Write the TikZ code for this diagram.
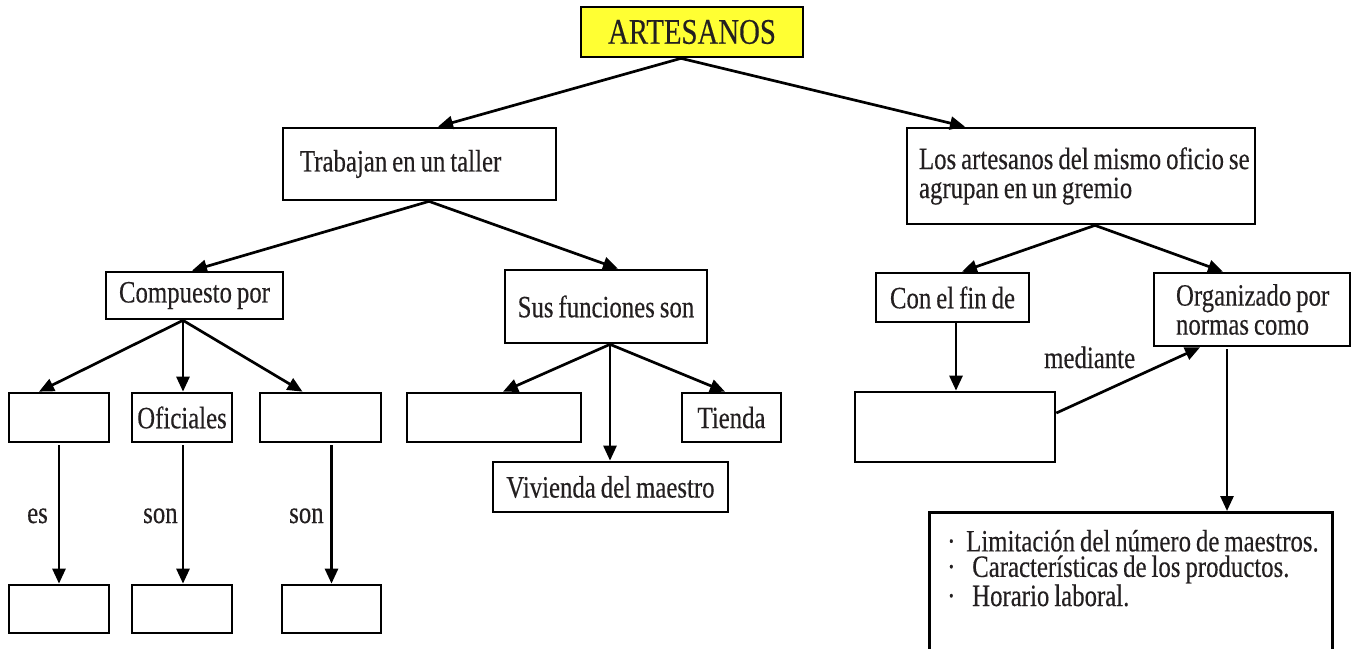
\documentclass[tikz,border=0pt]{standalone}
\usepackage{fontspec}
\setmainfont{Liberation Serif}[FakeStretch=0.8, WordSpace=0.8, FakeBold=0.3]
\usetikzlibrary{arrows.meta}
\definecolor{ink}{RGB}{35,31,32}
\definecolor{yel}{RGB}{255,255,51}
\newcommand{\tightsp}{\spaceskip=0pt\xspaceskip=0pt\relax}
\begin{document}
\begin{tikzpicture}[x=1pt,y=-1pt,
  box/.style={draw=black, line width=2.7pt, rectangle, inner sep=0pt, text=ink,
              font=\fontsize{31}{29}\selectfont},
  arr/.style={line width=2.7pt, -{Triangle[length=15pt,width=13pt]}},
  lbl/.style={text=ink, font=\fontsize{31}{29}\selectfont, inner sep=0pt, anchor=base west}]
\useasboundingbox (0,0) rectangle (1351,648);
\clip (0,0) rectangle (1351,648);
\fill[white] (0,0) rectangle (1351,648);

% level 0
\node[box, fill=yel, minimum width=222, minimum height=50,
      font=\fontsize{36}{36}\selectfont] (art) at (692,32) {ARTESANOS};

% level 1
\node[box, minimum width=273, minimum height=72, text width=239, align=left]
  (trab) at (419.5,164) {\tightsp\mbox{Trabajan en un taller}};
\node[box, minimum width=348, minimum height=96, text width=324, align=left]
  (gremio) at (1081,176) {\tightsp\mbox{Los artesanos del mismo oficio se}\\\mbox{agrupan en un gremio}};

% level 2
\node[box, minimum width=177, minimum height=47] (comp) at (194.5,295.5) {Compuesto por};
\node[box, minimum width=202, minimum height=73] (sus) at (606,306.5) {Sus funciones son};
\node[box, minimum width=153, minimum height=49] (fin) at (952.5,297.5) {Con el fin de};
\node[box, minimum width=196, minimum height=73, text width=152, align=left]
  (org) at (1252,309.5) {\tightsp\mbox{Organizado por}\\\mbox{normas como}};

% level 3
\node[box, minimum width=100, minimum height=49] (b1) at (59,417.5) {};
\node[box, minimum width=100, minimum height=49] (ofi) at (182,417.5) {Oficiales};
\node[box, minimum width=121, minimum height=49] (b3) at (320.5,417.5) {};
\node[box, minimum width=174, minimum height=49] (fe) at (494,417.5) {};
\node[box, minimum width=99, minimum height=49] (tienda) at (731.5,417.5) {Tienda};
\node[box, minimum width=235, minimum height=50] (viv) at (610.5,487) {Vivienda del maestro};
\node[box, minimum width=200, minimum height=70] (me) at (955,427) {};

% level 4
\node[box, minimum width=100, minimum height=48] (c1) at (59,609) {};
\node[box, minimum width=100, minimum height=48] (c2) at (182,609) {};
\node[box, minimum width=99, minimum height=48] (c3) at (331.5,609) {};
\node[box, anchor=north west, minimum width=403, minimum height=170] (list) at (928,511) {};
\node[text=ink, inner sep=0pt, anchor=base west, align=left,
      font=\fontsize{31}{25.5}\selectfont] (listtxt) at (947,606)
  {\makebox[19pt][l]{·}Limitación del número de maestros.\\
   \makebox[25pt][l]{·}Características de los productos.\\
   \makebox[25pt][l]{·}Horario laboral.};

% labels
\node[lbl] (les) at (27,523) {es};
\node[lbl] (lson1) at (143,523) {son};
\node[lbl] (lson2) at (289,523) {son};
\node[lbl] (lmed) at (1044,368) {mediante};

% connectors
\draw[arr] ([xshift=-11pt]art.south) -- ([xshift=18.5pt]trab.north);
\draw[arr] ([xshift=-11pt]art.south) -- ([xshift=-116pt]gremio.north);
\draw[arr] ([xshift=9.5pt]trab.south) -- ([xshift=-2.5pt]comp.north);
\draw[arr] ([xshift=9.5pt]trab.south) -- ([xshift=12pt]sus.north);
\draw[arr] ([xshift=14pt]gremio.south) -- ([xshift=9.5pt]fin.north);
\draw[arr] ([xshift=14pt]gremio.south) -- ([xshift=-29pt]org.north);

\draw[arr] ([xshift=-11.5pt]comp.south) -- ([xshift=-20pt]b1.north);
\draw[arr] ([xshift=-11.5pt]comp.south) -- ([xshift=1pt]ofi.north);
\draw[arr] ([xshift=-11.5pt]comp.south) -- ([xshift=-18pt]b3.north);

\draw[arr] ([xshift=4pt]sus.south) -- ([xshift=9pt]fe.north);
\draw[arr] ([xshift=4pt]sus.south) -- ([xshift=-0.5pt]viv.north);
\draw[arr] ([xshift=4pt]sus.south) -- ([xshift=-6.5pt]tienda.north);

\draw[arr] ([xshift=3.5pt]fin.south) -- ([xshift=1pt]me.north);
\draw[arr] ([yshift=14pt]me.east) -- ([xshift=-52pt]org.south);
\draw[arr] ([xshift=-25pt,yshift=-2pt]org.south) -- ([xshift=-25pt]org.south |- list.north);

\draw[arr] ([yshift=-2pt]b1.south) -- (c1.north);
\draw[arr] ([xshift=1pt,yshift=-2pt]ofi.south) -- ([xshift=1pt]c2.north);
\draw[arr] ([yshift=-2pt]c3.north |- b3.south) -- (c3.north);
\end{tikzpicture}
\end{document}
